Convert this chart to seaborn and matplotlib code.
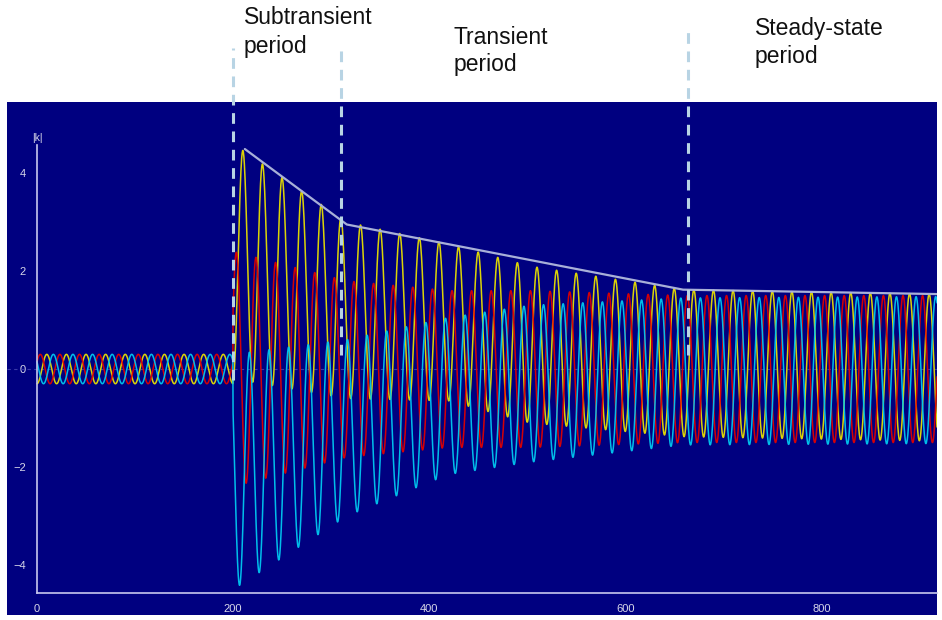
import numpy as np
import pandas as pd
import matplotlib
matplotlib.use("Agg")
import matplotlib.pyplot as plt
import seaborn as sns

# Values (time in ms, current in per-unit)
T_FAULT = 200
PERIOD = 20
PRE_AMP = 0.3
T_END = 918

# AC amplitude and DC offset knots after the fault
knot_t = [200, 316, 420, 503, 659, 918]
ac_amp = [2.4, 1.8, 1.6, 1.6, 1.5, 1.5]
dc_l1 = [2.2, 1.2, 0.95, 0.5, 0.12, 0.03]
dc_l2 = [0.0, 0.0, 0.0, 0.0, 0.0, 0.0]
dc_l3 = [-2.1, -1.2, -0.55, -0.3, -0.05, -0.02]

# three phases: colour, phase shift (deg), DC offset knots
phase_names = ["L1", "L2", "L3"]
phase_colors = {"L1": "#e8e000", "L2": "#e00000", "L3": "#00c8f0"}
phase_shift = [0, 120, -120]
phase_dc = [dc_l1, dc_l2, dc_l3]

# gray envelope line
env_t = [212, 316, 659, 918]
env_v = [4.49, 2.95, 1.62, 1.53]

# period boundaries (dashed lines)
bound_t = [200, 310, 664]
bound_top = [6.55, 6.55, 6.9]
bound_bot = [-0.22, 0.29, 0.29]

period_lines = [("Subtransient", "period"), ("Transient", "period"),
                ("Steady-state", "period")]
label_x = [244, 454, 755]
label_y = [(18, 46), (37, 64), (29, 56)]

xticks = [0, 200, 400, 600, 800]
yticks = [-4, -2, 0, 2, 4]

# Build long-form table
t = np.arange(0, T_END + 0.25, 0.25)
amp = np.where(t < T_FAULT, PRE_AMP, np.interp(t, knot_t, ac_amp))
theta = 2 * np.pi * (t - 210) / PERIOD + np.pi / 2
frames = []
for name, sh, dck in zip(phase_names, phase_shift, phase_dc):
    dc = np.where(t < T_FAULT, 0.0, np.interp(t, knot_t, dck))
    cur = amp * np.sin(theta + np.deg2rad(sh)) + dc
    frames.append(pd.DataFrame({"t": t, "i": cur, "phase": name}))
df = pd.concat(frames, ignore_index=True)

sns.set_theme(style="white")
plt.rcParams["font.family"] = ["Liberation Sans", "DejaVu Sans"]

W, H = 942, 620
fig = plt.figure(figsize=(W / 100, H / 100), dpi=100, facecolor="white")
ax = fig.add_axes([7 / W, 5 / H, 930 / W, 513 / H])
ax.set_facecolor("#000080")

ax.axhline(0, color="#3a3aa8", lw=0.8, ls=(0, (3, 3)), zorder=1)

sns.lineplot(data=df, x="t", y="i", hue="phase", hue_order=phase_names,
             palette=phase_colors, estimator=None, sort=False, lw=1.1,
             alpha=0.95, legend=False, ax=ax, zorder=2)

ax.plot(env_t, env_v, color="#a8b0d8", lw=1.6, zorder=3)

for bt, top, bot in zip(bound_t, bound_top, bound_bot):
    ax.plot([bt, bt], [bot, top], color="#b8d4e4", lw=2.2,
            ls=(0, (3.5, 2.5)), clip_on=False, zorder=4)

ax.set_xlim(-30.6, T_END)
ax.set_ylim(-5.02, 5.45)

axis_col = "#c8c8ee"
for s in ["top", "right"]:
    ax.spines[s].set_visible(False)
ax.spines["left"].set_position(("data", 0))
ax.spines["left"].set_bounds(-4.57, 4.57)
ax.spines["bottom"].set_position(("data", -4.57))
ax.spines["bottom"].set_bounds(0, T_END)
for s in ["left", "bottom"]:
    ax.spines[s].set_color(axis_col)
    ax.spines[s].set_linewidth(1.2)

ax.set_xticks(xticks)
ax.set_yticks(yticks)
ax.tick_params(axis="both", direction="out", length=6, width=1.2,
               color=axis_col, labelcolor="#d8d8e8", labelsize=8, pad=2)
ax.set_xlabel("")
ax.set_ylabel("")
ax.text(0, 4.62, "|k|", color="#d8d8e8", fontsize=7.5, ha="center", va="bottom")

# period captions above the plot
for lines, px, pys in zip(period_lines, label_x, label_y):
    for txt, py in zip(lines, pys):
        fig.text(px / W, 1 - py / H, txt, ha="left", va="center",
                 fontsize=16.5, color="#111111")

fig.savefig("out.png", dpi=100, facecolor="white")
